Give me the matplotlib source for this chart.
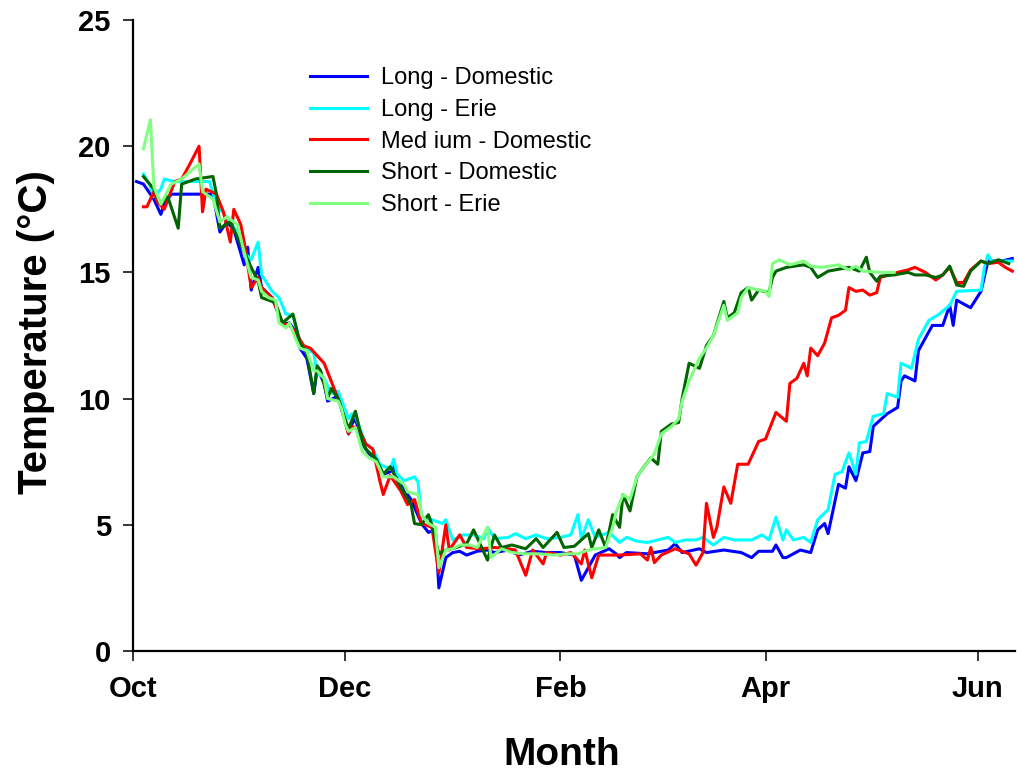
import matplotlib
matplotlib.use("Agg")
import matplotlib.pyplot as plt

plt.rcParams['font.family'] = ['Liberation Sans', 'DejaVu Sans']

# days since 1 Oct and water temperature (deg C) for each treatment
long_dom_day = [1, 3, 6, 8, 9, 11, 23, 25, 27, 29, 32, 33, 34, 36, 37, 40, 43, 45, 47, 48,
                50, 52, 53, 55, 56, 59, 62, 63, 64, 66, 68, 70, 72, 74, 75, 76, 80, 83, 85, 87,
                88, 90, 92, 94, 96, 99, 102, 104, 108, 111, 115, 119, 123, 127, 129, 131, 133, 137, 139, 140,
                142, 148, 154, 156, 158, 163, 165, 170, 175, 178, 180, 184, 185, 187, 188, 192, 195, 197, 199, 200,
                203, 205, 206, 208, 210, 212, 213, 217, 220, 221, 222, 225, 226, 230, 233, 235, 236, 237, 241, 244,
                246, 250, 253]
long_dom_temp = [18.6, 18.5, 17.9, 17.3, 17.7, 18.1, 18.1, 16.6, 17.0, 16.7, 15.3, 16.0, 14.3, 15.2, 14.4, 14.0, 12.95, 13.0, 12.6, 12.0,
                 11.6, 10.2, 11.2, 10.6, 9.9, 10.1, 8.6, 9.0, 9.2, 8.2, 7.8, 7.6, 7.0, 7.1, 7.4, 6.8, 6.0, 5.05, 4.7, 4.8,
                 2.5, 3.7, 3.9, 3.95, 3.8, 3.95, 4.0, 3.9, 4.0, 3.8, 3.95, 3.9, 3.9, 3.8, 2.8, 3.3, 3.8, 4.05, 3.85, 3.7,
                 3.9, 3.85, 4.0, 4.25, 3.9, 4.05, 3.9, 4.0, 3.9, 3.7, 3.95, 3.95, 4.2, 3.7, 3.7, 4.0, 3.9, 4.8, 5.05, 4.65,
                 6.6, 6.45, 7.3, 6.75, 7.85, 7.9, 8.9, 9.4, 9.65, 10.7, 10.9, 10.7, 11.9, 12.9, 12.9, 13.7, 12.9, 13.9, 13.6, 14.25,
                 15.45, 15.45, 15.55]

long_erie_day = [3, 5, 6, 8, 9, 12, 22, 24, 28, 31, 32, 34, 36, 37, 40, 42, 44, 46, 48, 50,
                 52, 53, 55, 57, 59, 62, 63, 64, 67, 69, 71, 74, 75, 76, 78, 81, 82, 83, 86, 89,
                 90, 92, 95, 98, 101, 102, 104, 108, 110, 113, 116, 119, 123, 126, 128, 129, 131, 133, 137, 140,
                 142, 145, 148, 151, 154, 156, 159, 162, 164, 167, 170, 173, 178, 181, 183, 185, 187, 188, 190, 193,
                 195, 197, 200, 202, 204, 206, 208, 209, 211, 213, 216, 217, 220, 221, 224, 226, 229, 232, 235, 237,
                 244, 245, 246, 247, 253]
long_erie_temp = [18.9, 18.4, 18.0, 18.3, 18.7, 18.6, 18.6, 17.7, 17.0, 16.35, 15.8, 15.5, 16.2, 14.9, 14.25, 14.0, 13.35, 13.3, 12.3, 12.0,
                  11.8, 11.0, 10.8, 10.2, 10.3, 9.2, 9.4, 9.3, 8.2, 8.0, 7.4, 7.2, 7.6, 7.0, 6.75, 6.9, 6.7, 5.3, 5.2, 5.05,
                  5.2, 4.4, 4.6, 4.6, 4.45, 4.9, 4.45, 4.5, 4.65, 4.45, 4.6, 4.45, 4.5, 4.6, 5.4, 4.45, 5.2, 4.5, 4.7, 4.3,
                  4.5, 4.35, 4.3, 4.4, 4.5, 4.3, 4.4, 4.4, 4.5, 4.2, 4.5, 4.4, 4.4, 4.6, 4.4, 5.3, 4.4, 4.8, 4.4, 4.5,
                  4.3, 5.2, 5.6, 7.0, 7.1, 7.85, 7.0, 8.25, 8.3, 9.3, 9.4, 10.2, 10.05, 11.4, 11.2, 12.35, 13.1, 13.35, 13.7, 14.25,
                  14.3, 15.2, 15.7, 15.45, 15.45]

medium_dom_day = [3, 4, 6, 7, 9, 12, 14, 16, 19, 20, 21, 24, 26, 28, 29, 31, 32, 34, 36, 37,
                  40, 43, 45, 47, 49, 51, 53, 55, 57, 59, 60, 62, 63, 65, 67, 69, 71, 72, 74, 77,
                  79, 81, 83, 86, 88, 90, 91, 94, 96, 100, 104, 108, 110, 113, 115, 118, 119, 123, 126, 129,
                  130, 132, 134, 140, 146, 148, 149, 150, 152, 156, 160, 162, 164, 165, 167, 168, 170, 172, 174, 177,
                  180, 182, 185, 188, 189, 191, 193, 194, 195, 197, 199, 201, 203, 205, 206, 208, 210, 212, 214, 215,
                  220, 223, 225, 228, 231, 233, 235, 237, 239, 241, 244, 246, 249, 251, 253]
medium_dom_temp = [17.6, 17.6, 18.2, 17.8, 17.5, 18.6, 18.7, 19.2, 20.0, 17.4, 18.3, 18.1, 17.4, 16.2, 17.5, 16.9, 16.2, 14.4, 14.8, 14.4,
                   14.0, 13.0, 12.9, 12.6, 12.1, 12.0, 11.7, 11.4, 10.7, 10.0, 9.6, 8.6, 8.9, 8.8, 8.2, 8.0, 6.75, 6.2, 6.95, 6.35,
                   5.8, 6.0, 5.05, 4.9, 3.1, 5.0, 4.0, 4.6, 4.1, 4.05, 4.1, 4.05, 4.0, 3.0, 4.0, 3.45, 3.9, 3.8, 3.9, 3.45,
                   4.0, 2.9, 3.8, 3.8, 3.85, 3.6, 4.1, 3.5, 3.8, 4.05, 3.85, 3.4, 3.9, 5.85, 4.5, 4.9, 6.5, 5.85, 7.4, 7.4,
                   8.3, 8.4, 9.45, 9.1, 10.6, 10.8, 11.4, 10.9, 12.0, 11.7, 12.2, 13.2, 13.3, 13.5, 14.4, 14.25, 14.3, 14.1, 14.2, 14.8,
                   15.0, 15.1, 15.2, 15.0, 14.7, 14.9, 15.2, 14.6, 14.6, 15.1, 15.45, 15.35, 15.4, 15.2, 15.05]

short_dom_day = [3, 6, 8, 10, 13, 14, 18, 23, 24, 25, 28, 31, 34, 36, 37, 41, 43, 46, 47, 48,
                 50, 52, 53, 54, 56, 57, 59, 62, 64, 66, 67, 70, 72, 74, 77, 80, 81, 83, 85, 86,
                 88, 90, 93, 96, 98, 100, 102, 104, 106, 109, 113, 116, 118, 122, 124, 127, 129, 131, 132, 134,
                 136, 138, 140, 141, 143, 145, 147, 149, 151, 152, 155, 157, 158, 160, 163, 165, 167, 170, 171, 173,
                 175, 177, 178, 180, 183, 184, 185, 188, 193, 195, 197, 200, 206, 209, 211, 212, 214, 215, 219, 223,
                 225, 228, 231, 233, 235, 237, 239, 241, 244, 246, 249, 252]
short_dom_temp = [18.8, 18.3, 17.7, 18.0, 16.75, 18.5, 18.7, 18.8, 18.1, 16.75, 17.0, 16.1, 15.2, 14.65, 14.0, 13.8, 13.0, 13.35, 12.8, 12.2,
                  11.8, 10.2, 11.3, 11.1, 10.0, 10.4, 10.0, 8.8, 9.5, 8.3, 8.0, 7.6, 7.0, 7.3, 6.5, 5.8, 5.05, 5.0, 5.4, 5.0,
                  3.85, 4.0, 4.1, 4.25, 4.8, 4.2, 3.6, 4.6, 4.1, 4.2, 4.05, 4.45, 4.1, 4.7, 4.1, 4.15, 4.4, 4.65, 4.1, 4.8,
                  4.1, 5.4, 4.9, 6.2, 5.55, 6.9, 7.3, 7.65, 7.4, 8.7, 9.0, 9.05, 10.0, 11.4, 11.2, 12.1, 12.5, 13.85, 13.2, 13.4,
                  14.2, 14.4, 13.9, 14.3, 14.2, 14.8, 15.05, 15.2, 15.3, 15.2, 14.8, 15.05, 15.2, 15.05, 15.6, 15.0, 14.65, 14.85, 14.9, 15.0,
                  14.9, 14.9, 14.8, 14.9, 15.25, 14.5, 14.45, 15.05, 15.45, 15.35, 15.5, 15.35]

short_erie_day = [3, 5, 6, 8, 11, 14, 19, 20, 23, 25, 27, 30, 32, 34, 36, 37, 39, 41, 42, 44,
                  45, 47, 48, 50, 52, 53, 55, 56, 59, 60, 61, 62, 64, 66, 68, 70, 72, 75, 78, 79,
                  82, 83, 85, 87, 88, 90, 92, 94, 97, 99, 102, 103, 106, 109, 113, 117, 121, 125, 128, 131,
                  133, 136, 138, 139, 141, 143, 145, 147, 150, 152, 155, 157, 158, 160, 163, 165, 167, 170, 171, 174,
                  175, 177, 180, 182, 183, 184, 186, 189, 193, 195, 198, 203, 206, 208, 210, 216, 219]
short_erie_temp = [19.9, 21.05, 18.4, 17.7, 18.5, 18.7, 19.3, 18.2, 17.9, 17.0, 17.2, 16.9, 15.8, 14.8, 14.7, 14.25, 14.0, 13.9, 13.0, 12.8,
                   13.0, 12.3, 12.0, 11.9, 11.1, 11.1, 10.8, 10.0, 9.9, 9.6, 9.0, 8.7, 8.85, 7.9, 7.65, 7.5, 6.9, 6.9, 6.6, 6.3,
                   6.2, 5.4, 5.05, 4.9, 3.3, 4.0, 4.05, 4.2, 4.2, 4.1, 4.9, 3.7, 4.05, 3.9, 3.85, 3.85, 3.8, 3.85, 3.85, 4.0,
                   4.05, 4.1, 4.9, 5.5, 6.2, 6.0, 6.9, 7.3, 7.8, 8.6, 8.9, 9.2, 9.9, 10.7, 11.6, 12.0, 12.5, 13.7, 13.1, 13.4,
                   14.0, 14.4, 14.3, 14.25, 14.05, 15.35, 15.5, 15.3, 15.45, 15.25, 15.2, 15.3, 15.1, 15.25, 15.05, 15.0, 15.0]

# first day of Oct, Dec, Feb, Apr, Jun
month_ticks = [0, 61, 123, 182, 243]
month_labels = ['Oct', 'Dec', 'Feb', 'Apr', 'Jun']

series = [
    (long_dom_day, long_dom_temp, '#0000FF', 'Long - Domestic'),
    (long_erie_day, long_erie_temp, '#00FFFF', 'Long - Erie'),
    (medium_dom_day, medium_dom_temp, '#FF0000', 'Med ium - Domestic'),
    (short_dom_day, short_dom_temp, '#006400', 'Short - Domestic'),
    (short_erie_day, short_erie_temp, '#80FF80', 'Short - Erie'),
]

fig = plt.figure(figsize=(10.17, 7.76), dpi=100)
ax = fig.add_axes([0.1308, 0.1611, 0.8673, 0.8131])

for day, temp, color, label in series:
    ax.plot(day, temp, color=color, lw=2.2, label=label)

ax.set_xlim(0, 253.8)
ax.set_ylim(0, 25)
ax.set_xticks(month_ticks)
ax.set_xticklabels(month_labels)
ax.set_yticks([0, 5, 10, 15, 20, 25])

for side in ('top', 'right'):
    ax.spines[side].set_visible(False)
for side in ('left', 'bottom'):
    ax.spines[side].set_linewidth(1.6)
ax.tick_params(direction='out', length=7, width=1.1, labelsize=21)
ax.tick_params(axis='x', pad=10)
ax.tick_params(axis='y', pad=9)
for lab in ax.get_xticklabels() + ax.get_yticklabels():
    lab.set_fontweight('bold')

ax.set_xlabel('Month', fontsize=28, fontweight='bold')
ax.xaxis.set_label_coords(0.486, -0.137)
ax.set_ylabel('Temperature (\u00b0C)', fontsize=29, fontweight='bold')
ax.yaxis.set_label_coords(-0.089, 0.505)

ax.legend(loc='upper left', bbox_to_anchor=(0.201, 0.925), frameon=False,
          fontsize=17, handlelength=2.4, handletextpad=0.6, labelspacing=0.41,
          borderpad=0, borderaxespad=0)

fig.savefig('out.png', dpi=100)
